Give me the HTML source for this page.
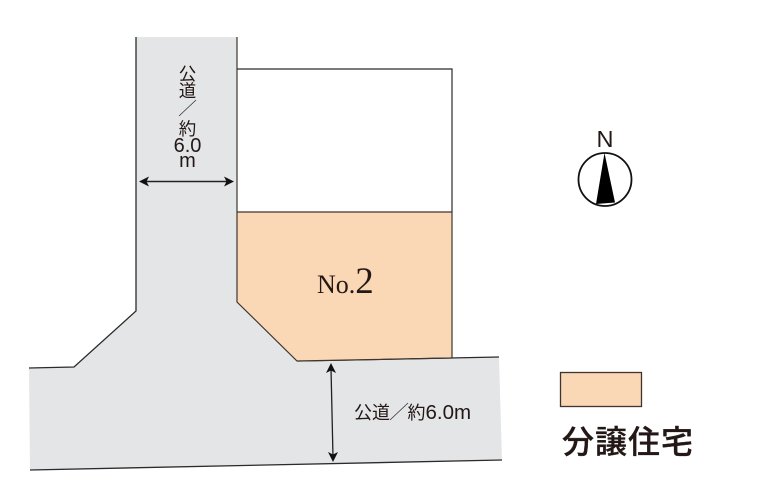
<!DOCTYPE html>
<html>
<head>
<meta charset="utf-8">
<style>
html,body{margin:0;padding:0;background:#fff;width:759px;height:500px;overflow:hidden}
svg{display:block}
text{fill:#231815}
.s{font-family:"Liberation Sans","Noto Sans CJK JP",sans-serif}
</style>
</head>
<body>
<svg width="759" height="500" viewBox="0 0 759 500" xmlns="http://www.w3.org/2000/svg">
<!-- road -->
<polygon points="136,37 237,37 237,300 298,361 499,357 502,460 30,470 29,368 74,367 136,311" fill="#e4e5e7"/>
<!-- road edges -->
<g fill="none" stroke="#2b2b2b" stroke-width="1.3">
<polyline points="136,37 136,311 74,367 29,368"/>
<line x1="30" y1="470" x2="502" y2="460"/>
<line x1="298" y1="361" x2="499" y2="357"/>
</g>
<!-- upper white lot -->
<polyline points="237,69 452,69 452,212" fill="none" stroke="#2b2b2b" stroke-width="1.2"/>
<!-- orange lot -->
<polygon points="237,212 452,212 452,357 298,361 237,302" fill="#fad7b5"/>
<g fill="none" stroke="#40352c" stroke-width="1.2">
<polyline points="237,37 237,302 297,361 452,358 452,212 237,212"/>
</g>
<!-- dimension arrows -->
<line x1="144" y1="181.500" x2="230" y2="181.500" stroke="#222" stroke-width="1.400"/>
<polygon points="139,181.500 149,176.500 146.500,181.500 149,186.500" fill="#111"/>
<polygon points="234,181.500 224,176.500 226.500,181.500 224,186.500" fill="#111"/>
<line x1="331" y1="368" x2="333" y2="457" stroke="#222" stroke-width="1.300"/>
<polygon points="331,363 336,373 331,370.500 326,373" fill="#111"/>
<polygon points="333,462 328,452 333,454.500 338,452" fill="#111"/>
<!-- vertical label -->
<text class="s" x="187.500" y="80" font-size="17.500" text-anchor="middle">公</text>
<text class="s" x="187.500" y="97" font-size="17.500" text-anchor="middle">道</text>
<line x1="196" y1="100" x2="179" y2="116" stroke="#333" stroke-width="0.8"/>
<text class="s" x="187.500" y="135" font-size="17.500" text-anchor="middle">約</text>
<text class="s" x="187.500" y="152" font-size="20" text-anchor="middle">6.0</text>
<text class="s" x="187.500" y="167" font-size="20" text-anchor="middle">m</text>
<!-- horizontal label -->
<text class="s" x="354" y="419" font-size="18">公道</text>
<line x1="408" y1="403" x2="390" y2="420" stroke="#333" stroke-width="0.8"/>
<text class="s" x="407.500" y="419" font-size="18">約<tspan font-size="20.500">6.0m</tspan></text>
<!-- No.2 -->
<text x="317" y="293" font-family="Liberation Serif,serif" font-size="26">No.<tspan font-size="37">2</tspan></text>
<!-- compass -->
<circle cx="605" cy="179.500" r="26.500" fill="#fff" stroke="#111" stroke-width="1.800"/>
<polygon points="604.500,153 596,204 615,202.500" fill="#000"/>
<text class="s" x="605" y="147" font-size="23.500" text-anchor="middle">N</text>
<!-- legend -->
<rect x="560.500" y="372.500" width="81" height="34" fill="#fad7b5" stroke="#40352c" stroke-width="1.300"/>
<text class="s" x="562" y="453" font-size="32" font-weight="500" letter-spacing="1" stroke="#231815" stroke-width="0.300">分譲住宅</text>
</svg>
</body>
</html>
